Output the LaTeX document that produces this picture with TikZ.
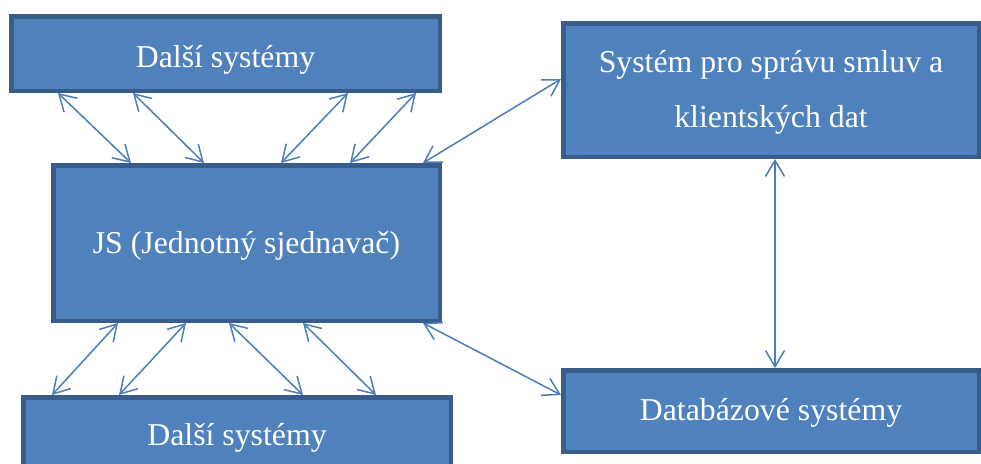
\documentclass[tikz,border=0pt]{standalone}
\usepackage{fontspec}
\setmainfont{Liberation Serif}
\usetikzlibrary{arrows.meta}
\definecolor{boxfill}{HTML}{4F81BD}
\definecolor{boxline}{HTML}{385D8A}
\definecolor{arrowcol}{HTML}{4A7EBB}
\newcommand{\lowertext}[2]{\raisebox{-#1}[\height][\depth]{#2}}
\begin{document}
\begin{tikzpicture}[x=1pt,y=-1pt,
  sysbox/.style={draw=boxline, fill=boxfill, line width=4.5pt, rectangle,
    text=white, align=center, inner sep=0pt,
    font=\fontsize{31.8}{55}\selectfont},
  link/.style={draw=arrowcol, line width=1.5pt,
    {Straight Barb[length=16pt,width=19pt]}-{Straight Barb[length=16pt,width=19pt]}}
]
\useasboundingbox (0,0) rectangle (981,463);
\clip (0,0) rectangle (981,463);

\node[sysbox, minimum width=428.5pt, minimum height=74.5pt] (top) at (225.5,53.5) {\lowertext{6pt}{Další systémy}};
\node[sysbox, minimum width=386.5pt, minimum height=155.5pt] (js) at (246.5,243) {\lowertext{3pt}{JS (Jednotný sjednavač)}};
\node[sysbox, minimum width=427.5pt, minimum height=79.5pt] (bot) at (237,437) {\lowertext{1pt}{Další systémy}};
\node[sysbox, minimum width=415.5pt, minimum height=133.5pt] (rt) at (771,90) {\lowertext{2pt}{Systém pro správu smluv a}\\\lowertext{2pt}{klientských dat}};
\node[sysbox, minimum width=415.5pt, minimum height=81.5pt] (db) at (771,411) {\lowertext{1.5pt}{Databázové systémy}};

% top connectors
\draw[link] ([xshift=49pt]top.south west) -- ([xshift=80pt]js.north west);
\draw[link] ([xshift=124pt]top.south west) -- ([xshift=153pt]js.north west);
\draw[link] ([xshift=339pt]top.south west) -- ([xshift=230pt]js.north west);
\draw[link] ([xshift=407pt]top.south west) -- ([xshift=299pt]js.north west);

% bottom connectors
\draw[link] ([xshift=67pt]js.south west) -- ([xshift=31pt]bot.north west);
\draw[link] ([xshift=135pt]js.south west) -- ([xshift=98pt]bot.north west);
\draw[link] ([xshift=178pt]js.south west) -- ([xshift=282pt]bot.north west);
\draw[link] ([xshift=252pt]js.south west) -- ([xshift=355pt]bot.north west);

% right connectors
\draw[link] ([xshift=-19pt]js.north east) -- ([yshift=11pt]rt.west);
\draw[link] ([xshift=-19pt]js.south east) -- ([yshift=16pt]db.west);
\draw[link] ([xshift=4pt]rt.south) -- ([xshift=4pt]db.north);
\end{tikzpicture}
\end{document}
